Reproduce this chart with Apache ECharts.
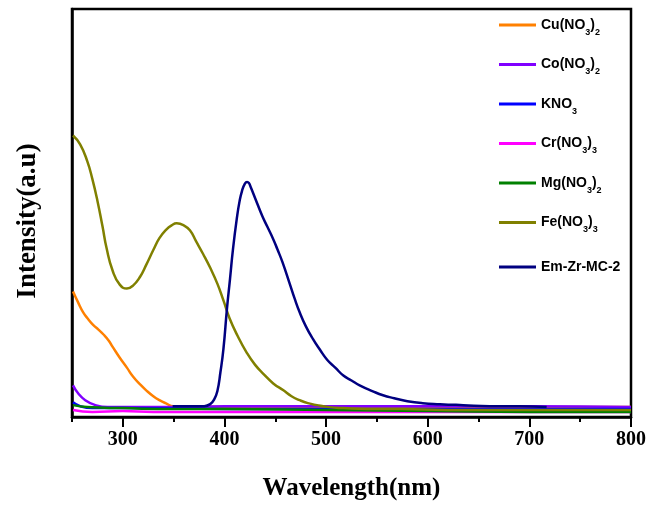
<!DOCTYPE html>
<html><head><meta charset="utf-8">
<script src="https://cdn.jsdelivr.net/npm/echarts@6/dist/echarts.min.js"></script>
<style>html,body{margin:0;padding:0;background:#fff}#c{width:651px;height:506px}</style>
</head><body><div id="c"></div>
<script>
var seriesNames = ['Cu(NO3)2','Co(NO3)2','KNO3','Cr(NO3)3','Mg(NO3)2','Fe(NO3)3','Em-Zr-MC-2'];
var legendLabels = ['{b|Cu(NO}{s|3}{b|)}{s|2}','{b|Co(NO}{s|3}{b|)}{s|2}','{b|KNO}{s|3}','{b|Cr(NO}{s|3}{b|)}{s|3}','{b|Mg(NO}{s|3}{b|)}{s|2}','{b|Fe(NO}{s|3}{b|)}{s|3}','{b|Em-Zr-MC-2}'];
var colors = ['#FF8000','#8000FF','#0000FF','#FF00FF','#008000','#808000','#000080'];
var xTicks = [300,400,500,600,700,800];

var cuX = [251,256,261,266,271,276,281,286,290,297,304,310,317,323,330,336,342,350,400,500,600,700,800];
var cuY = [127,116,106,99,93,88.5,83.5,77.5,71,60,50,41,33,27,21,17,14,11,10.5,10,10,10,10];
var coX = [251,256,263,273,285,300,350,400,500,600,700,800];
var coY = [32,24,17,12,10,10,10,11,11,11,11,10];
var kX = [251,258,270,300,400,500,600,700,800];
var kY = [15,11,9,9,8,8,8,8,8];
var crX = [251,270,300,330,400,500,600,700,800];
var crY = [7,5,6,5,5,5,5,5,5];
var mgX = [251,265,300,350,400,500,600,700,800];
var mgY = [12,10,9,8,8,7,6,5,5];
var feX = [251,258,265,270,275,280,284,290,297,304,310,317,323,330,336,343,348,353,360,366,372,379,386,393,399,405,413,422,430,438,448,458,466,474,482,491,503,517,540,573,620,671,730,800];
var feY = [285,276,259,241,219,193,171,148,134,130,133,142,154,169,181,190,194,196,194,189,178,165,151,135,118,100,82,65,53,44,34,27,21,17,14,12,10,9,8,8,7,7,7,7];
var emX = [349,366,380,386,390,393,396,399,402.5,405.5,408.4,412.3,414.8,417.3,420,422.2,424,426.1,430,437,442,448,452,457,464.5,469,474,480,487,494,501,509,517,525,533,546,556,567,580,595,612,635,661,690,717];
var emY = [11,11,11,13,18,26,45,69,110,140,170,202,218,229,236,238,237,232,222,204,193,180,170,157,134,120,106,92,79,68,58,50,42,37,32,26,22,19,16,14,13,12,11,11,10];

var xs = [cuX,coX,kX,crX,mgX,feX,emX];
var ys = [cuY,coY,kY,crY,mgY,feY,emY];

function zip(a,b){var r=[];for(var i=0;i<a.length;i++)r.push([a[i],b[i]]);return r;}

var series = seriesNames.map(function(n,i){
  return {name:n,type:'line',data:zip(xs[i],ys[i]),showSymbol:false,symbol:'none',
    smooth:0.5,lineStyle:{width:2.5,color:colors[i]},itemStyle:{color:colors[i]},z:2+i};
});

var rich = {b:{fontFamily:'Arial, Liberation Sans',fontWeight:'bold',fontSize:14,lineHeight:24,color:'#000'},
            s:{fontFamily:'Arial, Liberation Sans',fontWeight:'bold',fontSize:9,lineHeight:6,verticalAlign:'bottom',color:'#000'}};
function fmt(name){return legendLabels[seriesNames.indexOf(name)];}

var chart = echarts.init(document.getElementById('c'));
chart.setOption({
  animation:false,
  color:colors,
  grid:{left:72,right:20,top:9,bottom:84,show:true,borderColor:'#000',borderWidth:2.5,backgroundColor:'transparent'},
  legend:[
    {data:seriesNames.slice(0,6),orient:'vertical',left:499,top:18,padding:0,itemWidth:37,itemHeight:3,itemGap:20.5,icon:'rect',
     formatter:fmt,textStyle:{rich:rich}},
    {data:seriesNames.slice(6),orient:'vertical',left:499,top:260,padding:0,itemWidth:37,itemHeight:3,icon:'rect',
     formatter:fmt,textStyle:{rich:rich}}
  ],
  xAxis:[
    {type:'value',min:250,max:800,interval:50,
     name:'Wavelength(nm)',nameLocation:'middle',nameGap:59,
     nameTextStyle:{fontFamily:'Times New Roman, Liberation Serif',fontWeight:'bold',fontSize:25,color:'#000'},
     axisLine:{show:true,lineStyle:{color:'#000',width:2.5}},
     axisTick:{show:true,inside:false,length:5,lineStyle:{color:'#000',width:2}},
     axisLabel:{show:true,margin:13,formatter:function(v){return v%100===0&&v>250?String(v):'';},
       fontFamily:'Times New Roman, Liberation Serif',fontWeight:'bold',fontSize:20,color:'#000'},
     splitLine:{show:false}},
    {type:'value',min:250,max:800,position:'bottom',gridIndex:0,
     axisLine:{show:false},
     axisTick:{show:true,inside:false,length:10,customValues:xTicks,lineStyle:{color:'#000',width:2}},
     axisLabel:{show:false},splitLine:{show:false}}
  ],
  yAxis:{type:'value',min:0,max:413,
     name:'Intensity(a.u)',nameLocation:'middle',nameGap:30,
     nameTextStyle:{fontFamily:'Times New Roman, Liberation Serif',fontWeight:'bold',fontSize:27,color:'#000',padding:[0,16,0,0]},
     axisLine:{show:true,lineStyle:{color:'#000',width:2.5}},
     axisTick:{show:false},axisLabel:{show:false},splitLine:{show:false}},
  series:series
});
</script></body></html>
